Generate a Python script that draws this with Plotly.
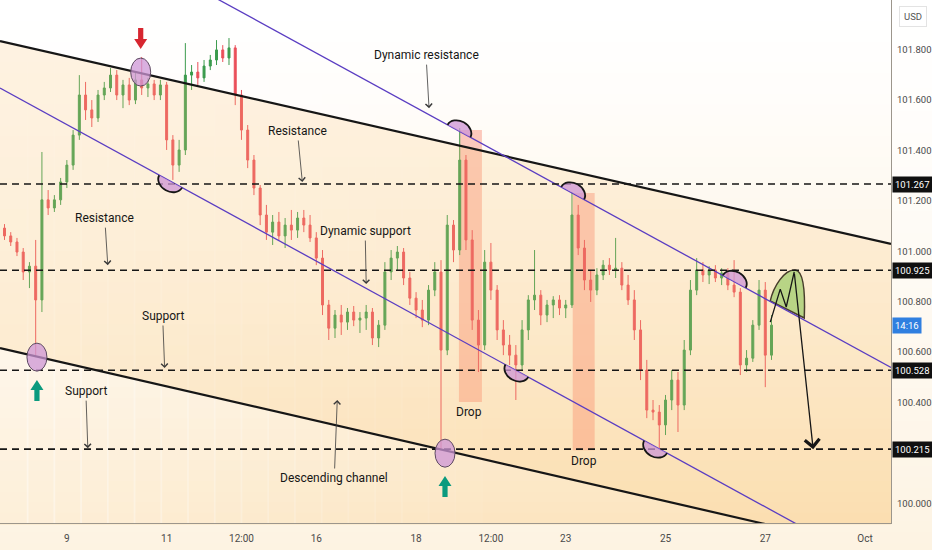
import math
import plotly.graph_objects as go

# ---- data -------------------------------------------------------------
# 3-hour candles, weekends skipped
first_day_hours = [15, 18, 21]
full_days = ["2024-09-06", "2024-09-09", "2024-09-10", "2024-09-11", "2024-09-12",
             "2024-09-13", "2024-09-16", "2024-09-17", "2024-09-18", "2024-09-19",
             "2024-09-20", "2024-09-23", "2024-09-24", "2024-09-25", "2024-09-26"]
bar_hours = [0, 3, 6, 9, 12, 15, 18, 21]
last_day_hours = [0, 3]

times = ([f"2024-09-05 {h:02d}:00" for h in first_day_hours]
         + [f"{d} {h:02d}:00" for d in full_days for h in bar_hours]
         + [f"2024-09-27 {h:02d}:00" for h in last_day_hours])

opens = [
    101.116, 101.092, 101.061,
    101.037, 100.997, 100.918, 100.941, 100.807, 101.204, 101.172, 101.204,
    101.275, 101.342, 101.461, 101.620, 101.561, 101.529, 101.620, 101.648,
    101.699, 101.620, 101.660, 101.600, 101.680, 101.648, 101.664, 101.620,
    101.660, 101.442, 101.342, 101.402, 101.699, 101.711, 101.688, 101.735,
    101.759, 101.799, 101.767, 101.807, 101.620, 101.481, 101.362, 101.251,
    101.144, 101.076, 101.116, 101.061, 101.104, 101.084, 101.132, 101.104,
    101.053, 100.973, 100.787, 100.695, 100.747, 100.719, 100.759, 100.727,
    100.735, 100.759, 100.656, 100.707, 100.918, 100.973, 100.997, 100.894,
    100.814, 100.767, 100.727, 100.846, 100.918, 100.608, 101.104, 101.005,
    101.362, 101.045, 100.727, 100.628, 100.957, 100.846, 100.688, 100.628,
    100.588, 100.549, 100.688, 100.807, 100.826, 100.747, 100.787, 100.807,
    100.775, 100.787, 101.144, 101.013, 100.886, 100.846, 100.906, 100.945,
    100.926, 100.933, 100.866, 100.807, 100.688, 100.529, 100.370, 100.362,
    100.311, 100.410, 100.489, 100.390, 100.608, 100.846, 100.926, 100.906,
    100.926, 100.894, 100.914, 100.866, 100.838, 100.549, 100.576, 100.707,
    100.846, 100.588,
]
highs = [
    101.132, 101.108, 101.076,
    101.053, 101.013, 100.957, 101.045, 101.394, 101.243, 101.223, 101.291,
    101.362, 101.481, 101.699, 101.672, 101.600, 101.640, 101.672, 101.727,
    101.719, 101.680, 101.688, 101.711, 101.771, 101.688, 101.680, 101.680,
    101.672, 101.461, 101.442, 101.826, 101.739, 101.751, 101.759, 101.779,
    101.838, 101.818, 101.846, 101.818, 101.640, 101.501, 101.382, 101.263,
    101.184, 101.144, 101.156, 101.132, 101.164, 101.156, 101.164, 101.144,
    101.076, 101.005, 100.807, 100.767, 100.787, 100.775, 100.783, 100.759,
    100.787, 100.775, 100.727, 100.957, 101.005, 101.021, 101.013, 100.918,
    100.838, 100.807, 100.866, 100.957, 100.965, 101.144, 101.124, 101.489,
    101.382, 101.084, 100.767, 101.005, 101.033, 100.866, 100.727, 100.668,
    100.628, 100.727, 100.826, 101.005, 100.846, 100.807, 100.822, 100.826,
    100.807, 101.235, 101.184, 101.045, 100.926, 100.933, 100.965, 100.973,
    101.053, 100.957, 100.906, 100.846, 100.727, 100.569, 100.410, 100.390,
    100.430, 100.529, 100.521, 100.648, 100.886, 100.973, 100.957, 100.941,
    100.945, 100.933, 100.933, 100.965, 100.854, 100.608, 100.727, 100.886,
    100.878, 100.747,
]
lows = [
    101.076, 101.045, 101.021,
    100.981, 100.886, 100.854, 100.580, 100.759, 101.144, 101.156, 101.184,
    101.251, 101.323, 101.442, 101.521, 101.493, 101.513, 101.600, 101.632,
    101.600, 101.568, 101.580, 101.584, 101.620, 101.612, 101.600, 101.600,
    101.402, 101.283, 101.315, 101.382, 101.640, 101.660, 101.672, 101.719,
    101.739, 101.751, 101.739, 101.580, 101.442, 101.330, 101.223, 101.104,
    101.045, 101.025, 101.045, 101.013, 101.045, 101.053, 101.076, 101.037,
    100.945, 100.747, 100.648, 100.656, 100.668, 100.688, 100.703, 100.676,
    100.688, 100.628, 100.620, 100.688, 100.886, 100.926, 100.866, 100.787,
    100.735, 100.699, 100.707, 100.822, 100.210, 100.588, 100.957, 100.985,
    101.005, 100.688, 100.521, 100.608, 100.807, 100.648, 100.588, 100.549,
    100.410, 100.529, 100.648, 100.767, 100.707, 100.719, 100.735, 100.747,
    100.735, 100.775, 100.985, 100.846, 100.799, 100.826, 100.886, 100.906,
    100.894, 100.846, 100.787, 100.648, 100.489, 100.338, 100.330, 100.219,
    100.271, 100.370, 100.283, 100.370, 100.588, 100.826, 100.878, 100.870,
    100.878, 100.866, 100.846, 100.818, 100.509, 100.521, 100.561, 100.688,
    100.461, 100.569,
]
closes = [
    101.092, 101.061, 101.037,
    100.997, 100.918, 100.941, 100.807, 101.204, 101.172, 101.204, 101.275,
    101.342, 101.461, 101.620, 101.561, 101.529, 101.620, 101.648, 101.699,
    101.620, 101.660, 101.600, 101.680, 101.648, 101.664, 101.620, 101.660,
    101.442, 101.342, 101.402, 101.699, 101.711, 101.688, 101.735, 101.759,
    101.799, 101.767, 101.807, 101.620, 101.481, 101.362, 101.251, 101.144,
    101.076, 101.116, 101.061, 101.104, 101.084, 101.132, 101.104, 101.053,
    100.973, 100.787, 100.695, 100.747, 100.719, 100.759, 100.727, 100.735,
    100.759, 100.656, 100.707, 100.918, 100.973, 100.997, 100.894, 100.814,
    100.767, 100.727, 100.846, 100.918, 100.608, 101.104, 101.005, 101.362,
    101.045, 100.727, 100.628, 100.957, 100.846, 100.688, 100.628, 100.588,
    100.549, 100.688, 100.807, 100.826, 100.747, 100.787, 100.807, 100.775,
    100.787, 101.144, 101.013, 100.886, 100.846, 100.906, 100.945, 100.926,
    100.933, 100.866, 100.807, 100.688, 100.529, 100.370, 100.362, 100.311,
    100.410, 100.489, 100.390, 100.608, 100.846, 100.926, 100.906, 100.926,
    100.894, 100.914, 100.866, 100.838, 100.549, 100.576, 100.707, 100.846,
    100.588, 100.707,
]

# drawings (time, price)
channel_upper = [("2024-09-05 15:50", 101.834), ("2024-10-01 12:29", 101.029)]
channel_lower = [("2024-09-05 15:50", 100.616), ("2024-10-01 12:29", 99.803)]
dyn_support = [("2024-09-05 15:50", 101.648), ("2024-10-01 12:29", 99.713)]
dyn_resistance = [("2024-09-10 15:50", 102.148), ("2024-10-01 12:29", 100.539)]
levels = [101.267, 100.925, 100.528, 100.215]

touch_circles = [("2024-09-06 09:36", 100.580), ("2024-09-10 11:31", 101.711),
                 ("2024-09-18 13:55", 100.199)]
touch_arcs = [("2024-09-11 01:55", 101.277, "down"), ("2024-09-18 20:38", 101.477, "up"),
              ("2024-09-23 03:22", 101.231, "up"), ("2024-09-20 00:29", 100.526, "down"),
              ("2024-09-24 19:12", 100.224, "down"), ("2024-09-26 09:07", 100.880, "up")]
drop_zones = [("2024-09-18 20:38", "2024-09-19 07:41", 100.402, 101.481),
              ("2024-09-23 03:22", "2024-09-23 13:55", 100.211, 101.231)]
drop_labels = [("2024-09-19 01:26", 100.362), ("2024-09-23 08:38", 100.168)]
sell_arrows = [("2024-09-10 11:31", 101.803)]
buy_arrows = [("2024-09-06 09:36", 100.489), ("2024-09-18 13:55", 100.108)]

projection_x = ["2024-09-27 02:24", "2024-09-27 07:12", "2024-09-27 10:05", "2024-09-27 13:55"]
projection_y = [100.719, 100.850, 100.779, 100.918]
projection_target = ("2024-09-27 23:02", 100.215)
projection_zone = ("2024-09-27 02:24", 100.803)

labels = [
    ("Dynamic resistance", "2024-09-18 06:14", 101.568, -3, -53),
    ("Resistance", "2024-09-13 17:17", 101.275, -5, -51),
    ("Resistance", "2024-09-09 19:41", 100.945, -3, -47),
    ("Dynamic support", "2024-09-17 00:00", 100.870, -1, -53),
    ("Support", "2024-09-10 23:02", 100.537, -2, -52),
    ("Support", "2024-09-09 10:05", 100.219, -2, -57),
    ("Descending channel", "2024-09-16 10:05", 100.410, -3, 78),
]

tick_vals = ["2024-09-09", "2024-09-11", "2024-09-12 12:00", "2024-09-16", "2024-09-18",
             "2024-09-19 12:00", "2024-09-23", "2024-09-25", "2024-09-27", "2024-10-01"]
tick_text = ["9", "11", "12:00", "16", "18", "12:00", "23", "25", "27", "Oct"]
price_ticks = [100.0, 100.4, 100.6, 100.8, 101.0, 101.2, 101.4, 101.6, 101.8]

FONT = "Roboto, sans-serif"
INK = "#161616"

fig = go.Figure()

# channel fill
fig.add_trace(go.Scatter(
    x=[channel_upper[0][0], channel_upper[1][0], channel_lower[1][0], channel_lower[0][0]],
    y=[channel_upper[0][1], channel_upper[1][1], channel_lower[1][1], channel_lower[0][1]],
    fill="toself", fillcolor="rgba(251,200,125,0.22)", line=dict(width=0),
    mode="lines", hoverinfo="skip", showlegend=False))

fig.add_trace(go.Candlestick(
    x=times, open=opens, high=highs, low=lows, close=closes,
    increasing=dict(line=dict(color="#3b9b4d", width=1), fillcolor="#3b9b4d"),
    decreasing=dict(line=dict(color="#ea4f5a", width=1), fillcolor="#ea4f5a"),
    whiskerwidth=0, hoverinfo="skip", showlegend=False))

for pts, col, w in [(channel_upper, INK, 2.2), (channel_lower, INK, 2.2),
                    (dyn_support, "#5a3dc2", 1.3), (dyn_resistance, "#5a3dc2", 1.3)]:
    fig.add_trace(go.Scatter(x=[p[0] for p in pts], y=[p[1] for p in pts], mode="lines",
                             line=dict(color=col, width=w), hoverinfo="skip", showlegend=False))

fig.add_trace(go.Scatter(x=projection_x, y=projection_y, mode="lines",
                         line=dict(color=INK, width=1.3), hoverinfo="skip", showlegend=False))

shapes = []


def blend(a, b, t):
    return "rgb(%d,%d,%d)" % tuple(round(a[k] + (b[k] - a[k]) * t) for k in range(3))


# background: light margins, warmer plot area, lighter towards the left
n = 50
for i in range(n):
    t = (i + 0.5) / n
    shapes.append(dict(type="rect", xref="paper", yref="paper", x0=-0.01, x1=1.06,
                       y0=1 - 1.06 * (i + 1) / n - 0.003, y1=1 - 1.06 * i / n,
                       fillcolor=blend((255, 255, 255), (253, 243, 226), t ** 1.3),
                       line=dict(width=0), layer="below"))
for i in range(n):
    t = (i + 0.5) / n
    shapes.append(dict(type="rect", xref="paper", yref="paper", x0=0, x1=1,
                       y0=1 - (i + 1) / n - 0.003, y1=1 - i / n,
                       fillcolor=blend((255, 255, 255), (252, 229, 192), t ** 1.5),
                       line=dict(width=0), layer="below"))
m = 20
for i in range(m):
    shapes.append(dict(type="rect", xref="paper", yref="paper", x0=0.03 * i, x1=0.03 * (i + 1) + 0.002,
                       y0=0, y1=1, fillcolor="white", opacity=0.4 * (1 - (i + 0.5) / m),
                       line=dict(width=0), layer="below"))

for x0, x1, y0, y1 in drop_zones:
    shapes.append(dict(type="rect", xref="x", yref="y", x0=x0, x1=x1, y0=y0, y1=y1,
                       fillcolor="rgba(247,128,108,0.42)", line=dict(width=0), layer="below"))

for lv in levels:
    shapes.append(dict(type="line", xref="paper", yref="y", x0=0, x1=1, y0=lv, y1=lv,
                       line=dict(color=INK, width=1.6, dash="7px,5px"), layer="above"))

for xc, yc in touch_circles:
    shapes.append(dict(type="circle", xref="x", yref="y", xsizemode="pixel", ysizemode="pixel",
                       xanchor=xc, yanchor=yc, x0=-10, x1=10, y0=-14, y1=14,
                       fillcolor="rgba(206,150,214,0.75)", line=dict(color="#5d4a60", width=1),
                       layer="above"))

theta = math.atan(0.546)


def half_disc(r, h, up):
    c, s = math.cos(theta), math.sin(theta)
    sg = 1 if up else -1
    loc = [(-r, 0), (-r, 0.552 * h), (-0.552 * r, h), (0, h),
           (0.552 * r, h), (r, 0.552 * h), (r, 0)]
    pts = [(u * c + v * s * sg, -u * s + v * c * sg) for u, v in loc]
    f = lambda p: f"{p[0]:.1f},{p[1]:.1f}"
    d = f"M{f(pts[0])} C{f(pts[1])} {f(pts[2])} {f(pts[3])} C{f(pts[4])} {f(pts[5])} {f(pts[6])}"
    return d + " Z", d


for xc, yc, side in touch_arcs:
    closed, open_ = half_disc(13, 10, side == "up")
    base = dict(type="path", xref="x", yref="y", xsizemode="pixel", ysizemode="pixel",
                xanchor=xc, yanchor=yc, layer="above")
    shapes.append(dict(base, path=closed, fillcolor="rgba(206,150,214,0.75)", line=dict(width=0)))
    shapes.append(dict(base, path=open_, line=dict(color=INK, width=1.8)))

for xc, yc in sell_arrows:
    shapes.append(dict(type="path", xref="x", yref="y", xsizemode="pixel", ysizemode="pixel",
                       xanchor=xc, yanchor=yc,
                       path="M0,0 L-6.5,10 L-2.6,10 L-2.6,21 L2.6,21 L2.6,10 L6.5,10 Z",
                       fillcolor="#d7262f", line=dict(width=0), layer="above"))
for xc, yc in buy_arrows:
    shapes.append(dict(type="path", xref="x", yref="y", xsizemode="pixel", ysizemode="pixel",
                       xanchor=xc, yanchor=yc,
                       path="M0,0 L-6.5,-10 L-2.6,-10 L-2.6,-21 L2.6,-21 L2.6,-10 L6.5,-10 Z",
                       fillcolor="#0b9a7e", line=dict(width=0), layer="above"))

shapes.append(dict(type="path", xref="x", yref="y", xsizemode="pixel", ysizemode="pixel",
                   xanchor=projection_zone[0], yanchor=projection_zone[1],
                   path="M0,0 C3,14 14,32 25,31 C34,30 35,8 34,-17 Z",
                   fillcolor="rgba(150,210,120,0.85)", line=dict(color=INK, width=1.5),
                   layer="below"))

annotations = []
for text, xh, yh, ax, ay in labels:
    annotations.append(dict(x=xh, y=yh, xref="x", yref="y", ax=ax, ay=ay, text=text,
                            showarrow=True, arrowhead=4, arrowsize=1.6, arrowwidth=0.8,
                            arrowcolor="#3a3a3a", standoff=0, startstandoff=1,
                            font=dict(family=FONT, size=12, color=INK)))
for xl, yl in drop_labels:
    annotations.append(dict(x=xl, y=yl, xref="x", yref="y", text="Drop", showarrow=False,
                            font=dict(family=FONT, size=12, color=INK)))

annotations.append(dict(x=projection_target[0], y=projection_target[1], xref="x", yref="y",
                        ax=projection_x[-1], ay=projection_y[-1], axref="x", ayref="y",
                        text="", showarrow=True, arrowhead=4, arrowsize=2.2, arrowwidth=1.3,
                        arrowcolor=INK, standoff=0))

for lv in levels:
    annotations.append(dict(x=1, y=lv, xref="paper", yref="y", xanchor="left", xshift=1,
                            text=f"{lv:.3f}", showarrow=False, bgcolor="#101010", borderpad=2,
                            font=dict(family=FONT, size=9.5, color="white")))
annotations.append(dict(x=1, y=100.707, xref="paper", yref="y", xanchor="left", xshift=1,
                        text="14:16", showarrow=False, bgcolor="#2f7fe0", borderpad=2,
                        font=dict(family=FONT, size=9.5, color="white")))
annotations.append(dict(x=1, y=1, xref="paper", yref="paper", xanchor="left", yanchor="top",
                        xshift=8, yshift=-6, text="USD", showarrow=False, bgcolor="#ffffff",
                        bordercolor="#e3e3e3", borderwidth=1, borderpad=4,
                        font=dict(family=FONT, size=9.5, color="#555")))

fig.update_layout(
    width=932, height=550,
    margin=dict(l=0, r=39, t=0, b=27),
    paper_bgcolor="rgb(253,243,226)", plot_bgcolor="rgba(0,0,0,0)",
    shapes=shapes, annotations=annotations, showlegend=False, dragmode=False,
    boxgap=0.55,
    xaxis=dict(type="date", range=["2024-09-05 15:50", "2024-10-01 12:29"],
               rangebreaks=[dict(bounds=["sat", "mon"])], rangeslider=dict(visible=False),
               showgrid=False, zeroline=False, tickmode="array", tickvals=tick_vals,
               ticktext=tick_text, ticks="", showline=True, linecolor="#9c968c", linewidth=1.2,
               ticklabelstandoff=6, tickfont=dict(family=FONT, size=10, color="#4a4a4a")),
    yaxis=dict(side="right", range=[99.922, 101.997], showgrid=False, zeroline=False,
               tickmode="array", tickvals=price_ticks,
               ticktext=[f"{v:.3f}" for v in price_ticks], ticks="", showline=True,
               linecolor="#9c968c", linewidth=1.2, ticklabelstandoff=3,
               tickfont=dict(family=FONT, size=9.5, color="#4a4a4a")),
)

fig.write_html("out.html", config={"displayModeBar": False},
               post_script="document.body.style.margin='0';")
